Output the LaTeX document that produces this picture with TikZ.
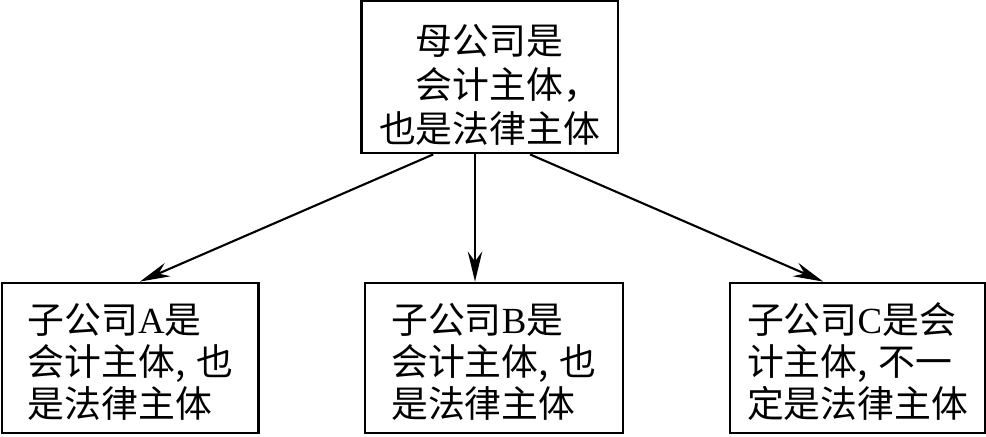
\documentclass[tikz,border=0pt]{standalone}
\usepackage{fontspec}
\setmainfont{Liberation Serif}
\newfontfamily\cjk{Noto Sans CJK SC}
\usetikzlibrary{arrows.meta}
\newcommand{\lat}[1]{{\rmfamily #1}}
\newcommand{\cm}{,\kern0.3em}

\begin{document}
\begin{tikzpicture}[box/.style={draw,line width=2pt,minimum width=6.42cm,minimum height=3.75cm,inner sep=0pt,align=left,font=\cjk\fontsize{26.2}{30}\selectfont},
  link/.style={line width=1.5pt,-{Stealth[length=0.75cm,width=0.36cm]}}]
\useasboundingbox (0,0) rectangle (24.65,10.9);
\node[box,align=center,minimum height=3.8cm,font=\cjk\fontsize{26.2}{31.5}\selectfont] (parent) at (12.24,8.975) {\rule{0pt}{1.15cm}母公司是\\会计主体\rlap{，}\\也是法律主体};
\node[box] (subA) at (3.26,1.95) {\rule{0pt}{0.95cm}子公司\lat{A}是\\会计主体\cm 也\\是法律主体};
\node[box,minimum width=6.45cm] (subB) at (12.35,1.95) {\rule{0pt}{0.95cm}子公司\lat{B}是\\会计主体\cm 也\\是法律主体};
\node[box,minimum width=6.38cm] (subC) at (21.44,1.95) {\rule{0pt}{0.95cm}子公司\lat{C}是会\\计主体\cm 不一\\定是法律主体};
\draw[link] ([xshift=-1.41cm]parent.south) -- ([xshift=0.24cm]subA.north);
\draw[link] ([xshift=-0.365cm]parent.south) -- ([xshift=-0.475cm]subB.north);
\draw[link] ([xshift=1.01cm]parent.south) -- ([xshift=-0.86cm]subC.north);
\end{tikzpicture}
\end{document}
